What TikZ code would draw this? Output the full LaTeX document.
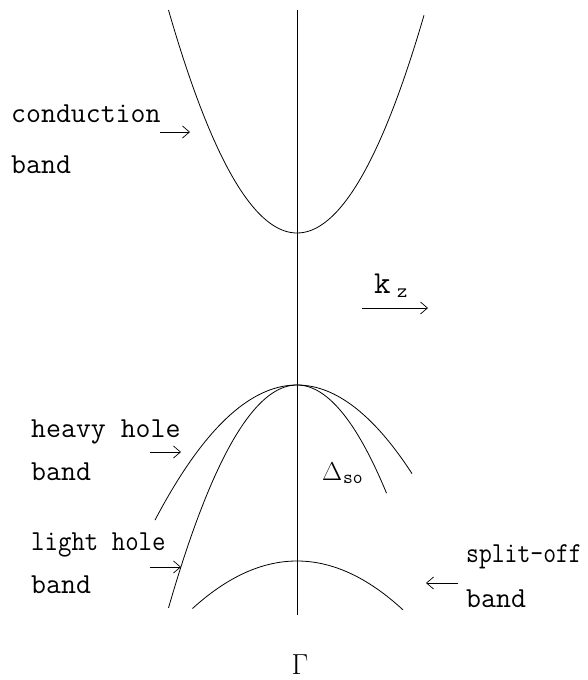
\documentclass[tikz,border=0pt]{standalone}
\usepackage{fontspec}
\usetikzlibrary{arrows.meta}
\tikzset{
  band/.style={line width=0.8pt},
  axisline/.style={line width=0.6pt},
  lbl/.style={anchor=base west, inner sep=0pt, font=\ttfamily\fontsize{29}{32}\selectfont},
  pointer/.style={line width=0.7pt, -{Straight Barb[length=7pt,width=12pt]}}
}
\begin{document}
\begin{tikzpicture}[x=1pt,y=-1pt]
\useasboundingbox (0,0) rectangle (588,680);
% axis
\coordinate (axtop) at (297,10);
\coordinate (axbot) at (297,615);
\draw[axisline] (axtop) -- (axbot);
% conduction band (u = dx/10)
\draw[band] plot[domain=-12.85:12.7, samples=80, smooth] ({297+10*\x},{233-1.35*\x*\x});
% heavy hole (broad)
\draw[band] plot[domain=-14.2:11.5, samples=80, smooth] ({297+10*\x},{385+0.67*\x*\x});
% light hole (steep)
\draw[band] plot[domain=-12.85:8.95, samples=80, smooth] ({297+10*\x},{385+1.35*\x*\x});
% split-off
\draw[band] plot[domain=-10.45:10.6, samples=80, smooth] ({297+10*\x},{561+0.435*\x*\x});
% labels
\node[lbl] (cond) at (11,122) {conduction};
\node[lbl] (condb) at (11,173) {band};
\coordinate (ca1) at (160,132); \coordinate (ca2) at (190,132);
\draw[pointer] (ca1) -- (ca2);
\node[lbl] (hh) at (31,437) {heavy hole};
\node[lbl] (hhb) at (31,480) {band};
\coordinate (ha1) at (150,452); \coordinate (ha2) at (181,452);
\draw[pointer] (ha1) -- (ha2);
\node[lbl] (lh) at (31,550) {\scalebox{0.9}[1]{light hole}};
\node[lbl] (lhb) at (31,593) {band};
\coordinate (la1) at (150,567); \coordinate (la2) at (181,567);
\draw[pointer] (la1) -- (la2);
\node[lbl] (so) at (466,562) {\scalebox{0.86}[1]{split-off}};
\node[lbl] (sob) at (466,607) {band};
\coordinate (sa1) at (458,583); \coordinate (sa2) at (426,583);
\draw[pointer] (sa1) -- (sa2);
% k_z
\node[anchor=base west, inner sep=0pt, font=\ttfamily\fontsize{32}{32}\selectfont] (k) at (374,293) {k};
\node[anchor=base west, inner sep=0pt, font=\ttfamily\fontsize{20}{20}\selectfont] (z) at (397,297) {z};
\coordinate (ka1) at (362,308); \coordinate (ka2) at (428,308);
\draw[pointer] (ka1) -- (ka2);
% Delta_so
\node[anchor=base west, inner sep=0pt, font=\fontsize{26}{26}\selectfont] (delta) at (322,480) {Δ};
\node[anchor=base west, inner sep=0pt, font=\ttfamily\fontsize{19}{20}\selectfont] (dso) at (343,483) {so};
% Gamma
\node[anchor=base, inner sep=0pt, font=\fontsize{29}{29}\selectfont] (gam) at (300,674) {Γ};
\end{tikzpicture}
\end{document}
